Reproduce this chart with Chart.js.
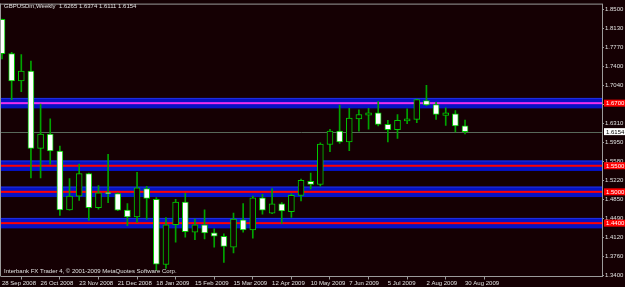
<!DOCTYPE html>
<html><head><meta charset="utf-8">
<script src="https://cdn.jsdelivr.net/npm/chart.js@4.4.1/dist/chart.umd.min.js"></script>
<style>html,body{margin:0;padding:0;background:#150003;overflow:hidden}#wrap{width:625px;height:287px}canvas{display:block}</style>
</head><body>
<div id="wrap"><canvas id="c" width="625" height="287"></canvas></div>
<script>
// ---- data ----
const tickIdx = [0,4,8,12,16,20,24,28,32,36,40,44,48];
const tickLabels = ['28 Sep 2008','26 Oct 2008','23 Nov 2008','21 Dec 2008','18 Jan 2009','15 Feb 2009','15 Mar 2009','12 Apr 2009','10 May 2009','7 Jun 2009','5 Jul 2009','2 Aug 2009','30 Aug 2009'];
const opens  = [1.8305,1.7649,1.7127,1.7316,1.5833,1.6105,1.5783,1.4654,1.4919,1.5348,1.4697,1.4985,1.4968,1.4648,1.4521,1.5064,1.4856,1.3608,1.4370,1.4805,1.4225,1.4370,1.4213,1.4149,1.3941,1.4465,1.4270,1.4887,1.4591,1.4768,1.4622,1.4932,1.5203,1.5140,1.5908,1.6167,1.5959,1.6400,1.6470,1.6514,1.6294,1.6192,1.6357,1.6389,1.6748,1.6673,1.6465,1.6495,1.6265];
const highs  = [1.8310,1.7675,1.7630,1.7505,1.6684,1.6400,1.5878,1.5254,1.5530,1.5360,1.5121,1.5719,1.4980,1.4773,1.5373,1.5108,1.4890,1.4508,1.4856,1.4970,1.4478,1.4654,1.4289,1.4194,1.4591,1.4773,1.4919,1.4951,1.5064,1.4792,1.4962,1.5246,1.5360,1.5941,1.6200,1.6665,1.6603,1.6570,1.6603,1.6729,1.6370,1.6483,1.6589,1.6779,1.7043,1.6716,1.6608,1.6559,1.6374];
const lows   = [1.7548,1.6767,1.6918,1.5265,1.5265,1.5530,1.4546,1.4648,1.4837,1.4459,1.4667,1.4792,1.4640,1.4351,1.4414,1.4478,1.3500,1.3532,1.4035,1.4130,1.4081,1.4100,1.3941,1.3646,1.3827,1.4225,1.4111,1.4573,1.4580,1.4395,1.4508,1.4824,1.5057,1.5108,1.5770,1.5927,1.5789,1.6162,1.6200,1.6262,1.5959,1.6022,1.6306,1.6324,1.6650,1.6389,1.6275,1.6148,1.6111];
const closes = [1.7649,1.7127,1.7316,1.5833,1.6105,1.5783,1.4654,1.4919,1.5348,1.4697,1.4981,1.4968,1.4648,1.4521,1.5076,1.4875,1.3613,1.4370,1.4805,1.4238,1.4370,1.4213,1.4149,1.3954,1.4478,1.4270,1.4887,1.4648,1.4768,1.4635,1.4932,1.5222,1.5140,1.5916,1.6167,1.5959,1.6413,1.6483,1.6514,1.6294,1.6192,1.6370,1.6400,1.6767,1.6665,1.6483,1.6514,1.6262,1.6154];
const priceTicks = [1.8500,1.8130,1.7770,1.7400,1.7040,1.6670,1.6310,1.5950,1.5580,1.5220,1.4850,1.4490,1.4120,1.3760,1.3400];
const levels = [1.6700,1.5500,1.5000,1.4400];
const levelLabels = ['1.6700','1.5500','1.5000','1.4400'];
const bandHalf = 0.0100;
const bid = 1.6154;
const titleText = 'GBPUSDm,Weekly  1.6265 1.6374 1.6111 1.6154';
const footText = 'Interbank FX Trader 4, \u00A9 2001-2009 MetaQuotes Software Corp.';

// ---- styles ----
const BG = '#150003', GREEN_B = '#00cc00', GREEN_W = '#00a400', GREY = '#9a9a9a', TXT = '#e0e0e0';
const FONT = '"Liberation Sans", Arial, sans-serif';

const bodyData = opens.map((o,i)=>({x:i, y:[o, closes[i]]}));
const wickData = highs.map((h,i)=>({x:i, y:[lows[i], h]}));
const bodyFill = opens.map((o,i)=> closes[i] < o ? '#ffffff' : BG);

const bgPlugin = {
  id:'bg',
  beforeDraw(chart){ const c=chart.ctx; c.save(); c.fillStyle=BG; c.fillRect(0,0,chart.width,chart.height); c.restore(); }
};
const levelPlugin = {
  id:'levels',
  beforeDatasetsDraw(chart){
    const c=chart.ctx, a=chart.chartArea, y=chart.scales.y;
    c.save();
    c.beginPath(); c.rect(a.left,a.top,a.right-a.left,a.bottom-a.top); c.clip();
    levels.forEach((lv,k)=>{
      const y1=y.getPixelForValue(lv+bandHalf), y2=y.getPixelForValue(lv-bandHalf);
      c.fillStyle='#0612c4'; c.fillRect(a.left,y1,a.right-a.left,y2-y1);
      c.fillStyle='#2030e0'; c.fillRect(a.left,y1,a.right-a.left,1);
      const yl=y.getPixelForValue(lv);
      c.fillStyle = k===0 ? '#ee30ee' : '#ff0000';
      c.fillRect(a.left,yl-1,a.right-a.left,2);
    });
    const yb=Math.round(y.getPixelForValue(bid))+0.5;
    c.strokeStyle='#58685a'; c.lineWidth=1; c.setLineDash([]);
    c.beginPath(); c.moveTo(a.left,yb); c.lineTo(a.right,yb); c.stroke();
    c.restore();
  },
  afterDraw(chart){
    const c=chart.ctx, a=chart.chartArea, y=chart.scales.y;
    c.save();
    c.fillStyle=GREY;
    c.fillRect(0,a.top-1,a.right+1,1);
    c.fillRect(0,a.top-1,1,a.bottom-a.top+1);
    c.font='6px '+FONT; c.textBaseline='middle';
    c.fillStyle=TXT; c.textAlign='left';
    c.fillText(titleText,4,6);
    c.fillText(footText,4,271);
    const box=(v,txt,fill,col)=>{
      const yy=y.getPixelForValue(v);
      c.fillStyle=fill; c.fillRect(a.right+2,yy-3.5,21,7);
      c.fillStyle=col; c.fillText(txt,a.right+4,yy+0.3);
    };
    levels.forEach((lv,k)=>box(lv,levelLabels[k],'#ff0000','#ffffff'));
    box(bid,bid.toFixed(4),'#ffffff','#000000');
    c.restore();
  }
};

new Chart(document.getElementById('c'), {
  type:'bar',
  data:{ datasets:[
    {data:bodyData, backgroundColor:bodyFill, borderColor:GREEN_B, borderWidth:1, borderSkipped:false, barThickness:6, grouped:false},
    {data:wickData, backgroundColor:GREEN_W, borderWidth:0, barThickness:1, grouped:false}
  ]},
  options:{
    responsive:false, animation:false, devicePixelRatio:1,
    layout:{padding:{left:1,top:1,right:0,bottom:0}},
    plugins:{legend:{display:false}, tooltip:{enabled:false}, title:{display:false}},
    scales:{
      x:{type:'linear', min:-0.1037, max:62.2, offset:false,
         afterFit(s){s.height=10.5;},
         afterBuildTicks(s){s.ticks=tickIdx.map(v=>({value:v}));},
         grid:{drawOnChartArea:false, drawTicks:true, tickLength:3, color:GREY},
         border:{display:true, color:GREY, width:1},
         ticks:{autoSkip:false, maxRotation:0, minRotation:0, align:'start', padding:0, color:TXT, font:{family:FONT,size:6},
                callback:(v,i)=>tickLabels[i]}},
      y:{type:'linear', position:'right', min:1.33773, max:1.85889, beginAtZero:false, grace:0,
         afterFit(s){s.width=23;},
         afterBuildTicks(s){s.ticks=priceTicks.map(v=>({value:v}));},
         grid:{drawOnChartArea:false, drawTicks:true, tickLength:2, color:GREY},
         border:{display:true, color:GREY, width:1},
         ticks:{padding:1, color:TXT, font:{family:FONT,size:6}, callback:v=>Number(v).toFixed(4)}}
    }
  },
  plugins:[bgPlugin, levelPlugin]
});
</script>
</body></html>
